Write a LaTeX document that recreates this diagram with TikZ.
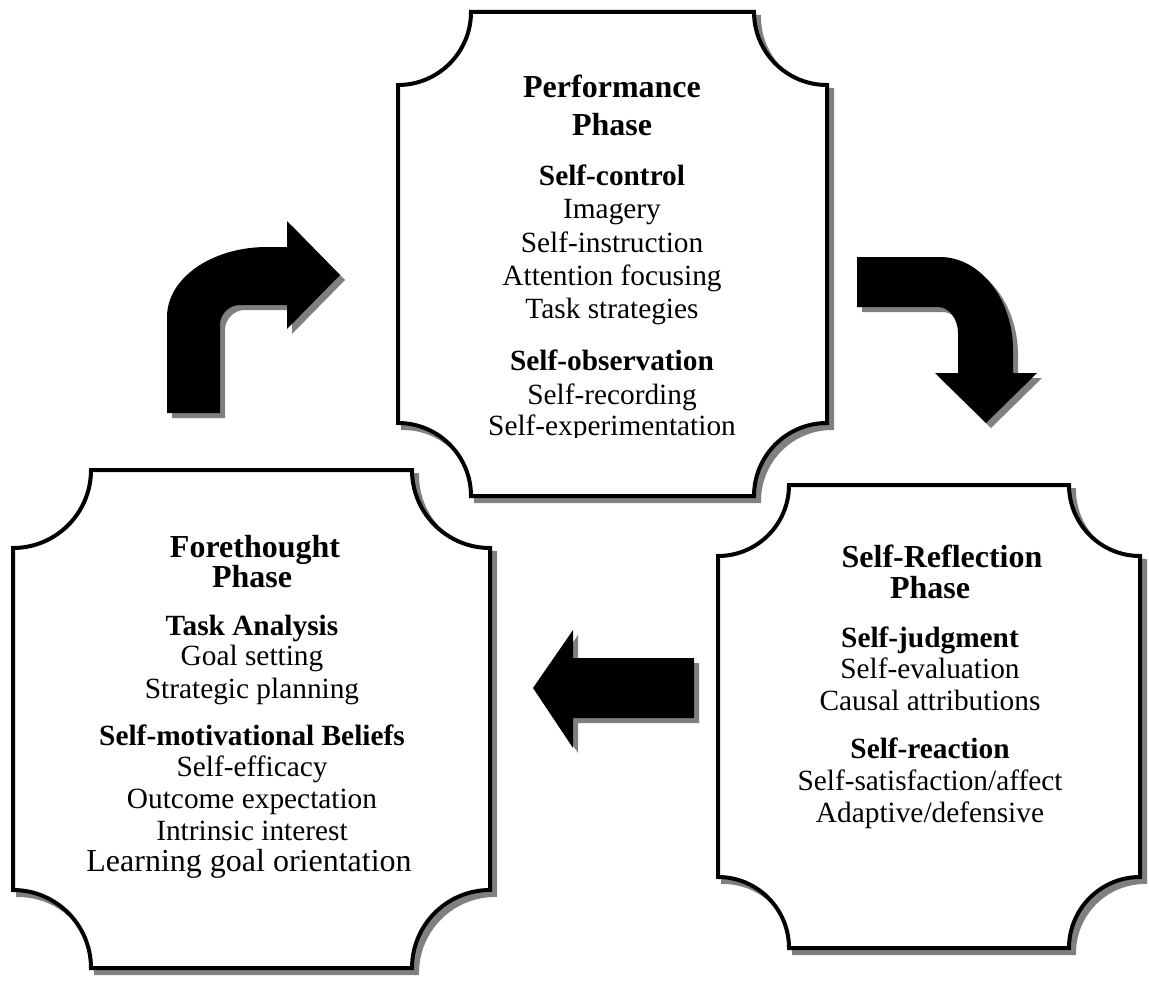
\documentclass[tikz,border=0pt]{standalone}
\usepackage{fontspec}
\setmainfont{Liberation Serif}[Ligatures=NoCommon]
\definecolor{shadowgray}{RGB}{128,128,128}
% concave-corner plaque: style, x1, y1, x2, y2, r
\newcommand\plaqueshape[6]{%
  \draw[#1] (#2,{#3+#6})
    .. controls ({#2+0.5523*#6},{#3+#6}) and ({#2+#6},{#3+0.5523*#6}) .. ({#2+#6},#3)
    -- ({#4-#6},#3)
    .. controls ({#4-#6},{#3+0.5523*#6}) and ({#4-0.5523*#6},{#3+#6}) .. (#4,{#3+#6})
    -- (#4,{#5-#6})
    .. controls ({#4-0.5523*#6},{#5-#6}) and ({#4-#6},{#5-0.5523*#6}) .. ({#4-#6},#5)
    -- ({#2+#6},#5)
    .. controls ({#2+#6},{#5-0.5523*#6}) and ({#2+0.5523*#6},{#5-#6}) .. (#2,{#5-#6})
    -- cycle;}
\newcommand\arrowupright[1]{%
  \fill[#1] (167,413) -- (167,317)
    .. controls (167,278) and (212,247) .. (267,247)
    -- (287,247) -- (287,221) -- (340,275) -- (287,329) -- (287,305)
    -- (240,305) .. controls (229,305) and (220,314) .. (220,325)
    -- (220,413) -- cycle;}
\newcommand\arrowrightdown[1]{%
  \fill[#1] (857,257) -- (940,257)
    .. controls (980,257) and (1013,299) .. (1013,350)
    -- (1013,373) -- (1037,373) -- (986,423) -- (935,373) -- (958,373)
    -- (958,333) .. controls (958,319) and (949,307) .. (938,307)
    -- (857,307) -- cycle;}
\newcommand\arrowleft[1]{%
  \fill[#1] (694,658) -- (573,658) -- (573,630) -- (533,688)
    -- (573,748) -- (573,718) -- (694,718) -- cycle;}
\begin{document}
\begin{tikzpicture}[x=0.75pt,y=-0.75pt,
  boxline/.style={draw=black,line width=3pt,fill=white,line join=miter},
  boxshadow/.style={draw=shadowgray,fill=shadowgray,line width=3pt,shift={(5,5)}},
  arrowbody/.style={fill=black},
  arrowshadow/.style={fill=shadowgray,shift={(5,5)}},
  norm/.style={anchor=base,inner sep=0pt,font=\fontsize{22}{26}\selectfont},
  big/.style={anchor=base,inner sep=0pt,font=\fontsize{24}{28}\selectfont},
  head/.style={anchor=base,inner sep=0pt,font=\fontsize{24}{28}\selectfont\bfseries},
  sub/.style={anchor=base,inner sep=0pt,font=\fontsize{22}{26}\selectfont\bfseries}]
\useasboundingbox (0,0) rectangle (1149,981);
% shadows
\plaqueshape{boxshadow}{13}{470}{490}{968}{78}
\plaqueshape{boxshadow}{718}{485}{1140}{948}{71}
\plaqueshape{boxshadow}{398}{12}{827}{496}{73}
\arrowupright{arrowshadow}
\arrowrightdown{arrowshadow}
\arrowleft{arrowshadow}
% boxes
\plaqueshape{boxline}{13}{470}{490}{968}{78}
\plaqueshape{boxline}{718}{485}{1140}{948}{71}
\plaqueshape{boxline}{398}{12}{827}{496}{73}
% arrows
\arrowupright{arrowbody}
\arrowrightdown{arrowbody}
\arrowleft{arrowbody}
% Performance phase
\node[head] (p1) at (612,98) {Performance};
\node[head] (p2) at (612,135) {Phase};
\node[sub]  (p3) at (612,185) {Self-control};
\node[norm] (p4) at (612,218) {Imagery};
\node[norm] (p5) at (612,252) {Self-instruction};
\node[norm] (p6) at (612,285) {Attention focusing};
\node[norm] (p7) at (612,318) {Task strategies};
\node[sub]  (p8) at (612,370) {Self-observation};
\node[norm] (p9) at (612,404) {Self-recording};
\begin{scope}
  \clip (398,380) rectangle (827,437);
  \node[norm] (p10) at (612,435) {Self-experimentation};
\end{scope}
% Forethought phase
\node[head] (f1) at (255,557) {Forethought};
\node[head] (f2) at (252,587) {Phase};
\node[sub]  (f3) at (252,635) {Task Analysis};
\node[norm] (f4) at (252,665) {Goal setting};
\node[norm] (f5) at (252,698) {Strategic planning};
\node[sub]  (f6) at (252,745) {Self-motivational Beliefs};
\node[norm] (f7) at (252,776) {Self-efficacy};
\node[norm] (f8) at (252,808) {Outcome expectation};
\node[norm] (f9) at (252,840) {Intrinsic interest};
\node[big]  (f10) at (249,871) {Learning goal orientation};
% Self-reflection phase
\node[head] (r1) at (942,567) {Self-Reflection};
\node[head] (r2) at (930,598) {Phase};
\node[sub]  (r3) at (930,647) {Self-judgment};
\node[norm] (r4) at (930,678) {Self-evaluation};
\node[norm] (r5) at (930,710) {Causal attributions};
\node[sub]  (r6) at (930,758) {Self-reaction};
\node[norm] (r7) at (930,790) {Self-satisfaction/affect};
\node[norm] (r8) at (930,822) {Adaptive/defensive};
\end{tikzpicture}
\end{document}
